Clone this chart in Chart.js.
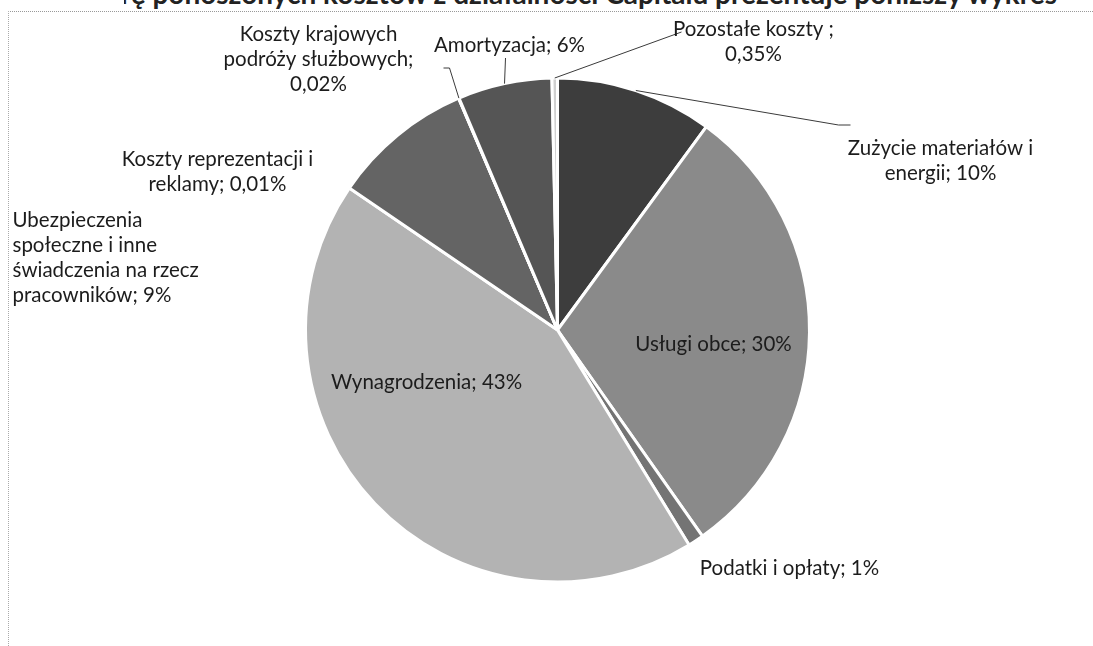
<!DOCTYPE html>
<html>
<head>
<meta charset="utf-8">
<script src="https://cdn.jsdelivr.net/npm/chart.js"></script>
<style>
  body { margin: 0; background: #fff; }
  #wrap { position: relative; width: 1093px; height: 646px; overflow: hidden; background: #fff; }
  #head { position: absolute; left: 124px; top: 0; width: 969px; height: 9px; overflow: hidden; }
  #head span { position: absolute; right: 36px; top: -21px; white-space: nowrap;
    font: bold 28px Lato, sans-serif; color: #222; line-height: 1; }
  #frame { position: absolute; left: 8px; top: 11px; width: 1100px; height: 700px;
    border-top: 1px dotted #999; border-left: 1px dotted #aaa; }
  canvas { position: absolute; left: 0; top: 0; }
</style>
</head>
<body>
<div id="wrap">
  <div id="head"><span>Strukturę ponoszonych kosztów z działalności Capitalu prezentuje poniższy wykres</span></div>
  <div id="frame"></div>
  <canvas id="myChart" width="1093" height="646"></canvas>
</div>
<script>
// data ---------------
const categories = ['Zużycie materiałów i energii', 'Usługi obce', 'Podatki i opłaty', 'Wynagrodzenia',
  'Ubezpieczenia społeczne i inne świadczenia na rzecz pracowników', 'Koszty reprezentacji i reklamy',
  'Koszty krajowych podróży służbowych', 'Amortyzacja', 'Pozostałe koszty '];
const shares = [10, 30, 1, 43, 9, 0.01, 0.02, 6, 0.35];
const shareLabels = ['10%', '30%', '1%', '43%', '9%', '0,01%', '0,02%', '6%', '0,35%'];
const labelLines = [
  ['Zużycie materiałów i', 'energii; 10%'],
  ['Usługi obce; 30%'],
  ['Podatki i opłaty; 1%'],
  ['Wynagrodzenia; 43%'],
  ['Ubezpieczenia', 'społeczne i inne', 'świadczenia na rzecz', 'pracowników; 9%'],
  ['Koszty reprezentacji i', 'reklamy; 0,01%'],
  ['Koszty krajowych', 'podróży służbowych;', '0,02%'],
  ['Amortyzacja; 6%'],
  ['Pozostałe koszty ;', '0,35%']
];
const sliceColors = ['#3d3d3d', '#8a8a8a', '#747474', '#b3b3b3', '#646464', '#777777', '#777777', '#555555', '#cfcfcf'];

// label placement, px from the pie centre
const labelPos = [
  {dx: 383, dy: -169, align: 'center', leader: [[281, -205], [293, -205]]},
  {dx: 156, dy: 14, align: 'center'},
  {dx: 232, dy: 238, align: 'center'},
  {dx: -131, dy: 52, align: 'center'},
  {dx: -545, dy: -72, align: 'left'},
  {dx: -340, dy: -158, align: 'center'},
  {dx: -239, dy: -271, align: 'center', leader: [[-108, -262], [-114, -262]]},
  {dx: -48, dy: -285, align: 'center', leader: [[-52, -272]]},
  {dx: 196, dy: -288, align: 'center', leader: [[124, -298]]}
];

const pieLabels = {
  id: 'pieLabels',
  afterDatasetsDraw(chart) {
    const c = chart.ctx;
    const arcs = chart.getDatasetMeta(0).data;
    c.save();
    c.font = '20.5px Lato, "Open Sans", sans-serif';
    c.fillStyle = '#1c1c1c';
    c.strokeStyle = '#3a3a3a';
    c.lineWidth = 1;
    c.textBaseline = 'middle';
    arcs.forEach((arc, i) => {
      const p = labelPos[i];
      const cx = arc.x, cy = arc.y;
      if (p.leader) {
        const mid = (arc.startAngle + arc.endAngle) / 2;
        c.beginPath();
        c.moveTo(cx + Math.cos(mid) * arc.outerRadius, cy + Math.sin(mid) * arc.outerRadius);
        p.leader.forEach(pt => c.lineTo(cx + pt[0], cy + pt[1]));
        c.stroke();
      }
      const lines = labelLines[i];
      const lh = 25;
      let y = cy + p.dy - (lines.length - 1) * lh / 2;
      c.textAlign = p.align;
      lines.forEach(t => {
        c.fillText(t, cx + p.dx, y);
        y += lh;
      });
    });
    c.restore();
  }
};

const ctx = document.getElementById('myChart');
new Chart(ctx, {
  type: 'pie',
  data: {
    labels: categories,
    datasets: [{
      data: shares,
      backgroundColor: sliceColors,
      borderColor: '#ffffff',
      borderWidth: 3
    }]
  },
  options: {
    responsive: false,
    animation: false,
    layout: { padding: { left: 304, right: 282, top: 76, bottom: 62 } },
    plugins: {
      legend: { display: false },
      tooltip: { enabled: false }
    }
  },
  plugins: [pieLabels]
});
</script>
</body>
</html>
